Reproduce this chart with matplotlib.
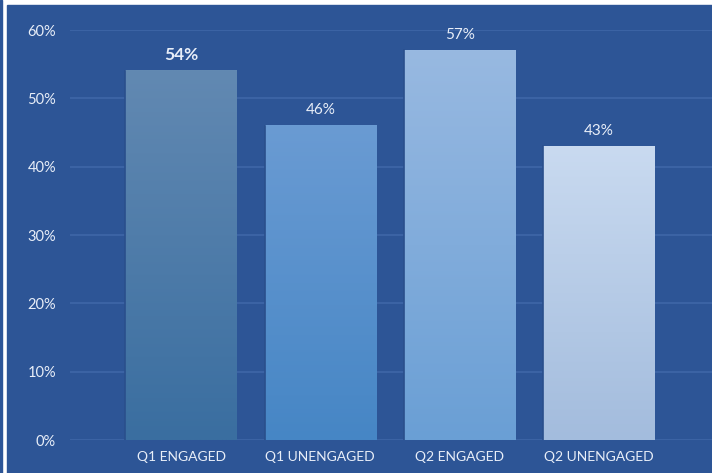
import numpy as np
import matplotlib
matplotlib.use("Agg")
import matplotlib.pyplot as plt
from matplotlib.colors import LinearSegmentedColormap
from matplotlib.patches import Rectangle

# 데이터
categories = ["Q1 ENGAGED", "Q1 UNENGAGED", "Q2 ENGAGED", "Q2 UNENGAGED"]
values = [0.54, 0.46, 0.57, 0.43]
value_labels = ["54%", "46%", "57%", "43%"]
y_ticks = [0, 0.1, 0.2, 0.3, 0.4, 0.5, 0.6]
y_tick_labels = ["0%", "10%", "20%", "30%", "40%", "50%", "60%"]

# 막대별 그라데이션 색 (위, 아래)
bar_colors = [("#6289b2", "#3a6ea0"),
              ("#6a9bd3", "#4686c5"),
              ("#98b9e1", "#6a9fd5"),
              ("#c9daf0", "#a3bcdd")]

bg = "#2d5596"
grid_c = "#3b63a4"
text_c = "#e8eef8"

plt.rcParams['font.family'] = ['Lato', 'DejaVu Sans']

fig = plt.figure(figsize=(7.12, 4.73), dpi=100, facecolor="white")

# 파란 배경 (왼쪽/위 흰 여백)
fig.patches.append(Rectangle((7/712, 0), 1 - 7/712, (473-5)/473,
                             transform=fig.transFigure, color=bg, zorder=-5))
fig.patches.append(Rectangle((0, 0), 2/712, 1,
                             transform=fig.transFigure, color=bg, zorder=-5))

ax = fig.add_axes([70/712, 33/473, 1 - 70/712, 410/473])
ax.set_facecolor("none")

x = np.arange(len(categories))
bars = ax.bar(x, values, width=0.8, color="none", zorder=2)

# 그라데이션 채우기
grad = np.linspace(0, 1, 256).reshape(-1, 1)
for b, (top, bottom) in zip(bars, bar_colors):
    cmap = LinearSegmentedColormap.from_list("g", [bottom, top])
    x0 = b.get_x()
    x1 = x0 + b.get_width()
    ax.imshow(grad, extent=[x0, x1, 0, b.get_height()], origin="lower",
              aspect="auto", cmap=cmap, zorder=2)
    ax.plot([x0, x0], [0, b.get_height()], color="#2a4f8c", lw=1.2, zorder=3)

# 막대 위 수치
for i, (b, lab) in enumerate(zip(bars, value_labels)):
    if i == 0:
        ax.annotate(lab, (b.get_x() + b.get_width()/2, b.get_height()),
                    xytext=(0, 6), textcoords="offset points", ha="center",
                    va="bottom", color=text_c, fontsize=12.5, fontweight="bold")
    else:
        ax.annotate(lab, (b.get_x() + b.get_width()/2, b.get_height()),
                    xytext=(0, 6), textcoords="offset points", ha="center",
                    va="bottom", color=text_c, fontsize=11)

ax.set_xlim(-0.797, 3.812)
ax.set_ylim(0, 0.6)
ax.set_yticks(y_ticks)
ax.set_yticklabels(y_tick_labels)
ax.set_xticks(x)
ax.set_xticklabels(categories)
ax.tick_params(axis="y", length=0, pad=10, colors=text_c, labelsize=10.5)
ax.tick_params(axis="x", length=0, pad=8, colors=text_c, labelsize=10)
ax.yaxis.grid(True, color=grid_c, lw=1.5, zorder=1)
ax.set_axisbelow(True)
for s in ax.spines.values():
    s.set_visible(False)

fig.savefig("out.png", dpi=100, facecolor=fig.get_facecolor())
